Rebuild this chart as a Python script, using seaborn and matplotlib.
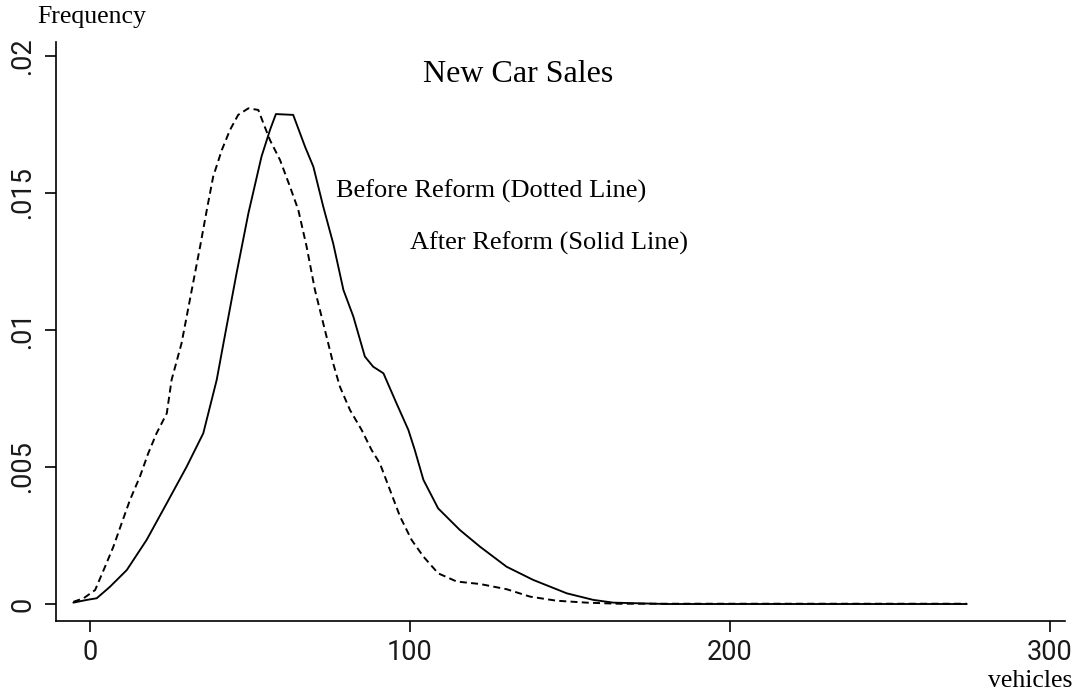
import numpy as np
import pandas as pd
import matplotlib
matplotlib.use("Agg")
import matplotlib.pyplot as plt
import seaborn as sns

# ---- data ----
before_x = [-5.2, -2, 1.6, 4.7, 7.3, 9.9, 12.5, 15.6, 18.2, 20.8, 24, 25.5, 28.6, 31.8,
            34.4, 36.5, 38.5, 41.2, 43.75, 46.3, 49.5, 52.6, 54.2, 56.25, 59.4, 62.5,
            65.1, 67.7, 70.3, 72.9, 76, 78.1, 81.25, 84.9, 88, 90.6, 93.75, 96.9, 100.5,
            104.2, 108.8, 114.6, 121.9, 130.2, 137.5, 145.8, 155.2, 165, 200, 274]
before_y = [0.00008, 0.00021, 0.00051, 0.00136, 0.00209, 0.00295, 0.0038, 0.00465,
            0.0055, 0.00623, 0.00696, 0.00818, 0.00951, 0.01146, 0.01304, 0.01438,
            0.0156, 0.01657, 0.0173, 0.01785, 0.01809, 0.01803, 0.01754, 0.01693,
            0.0162, 0.01523, 0.01438, 0.01304, 0.01146, 0.01024, 0.00878, 0.00793,
            0.00708, 0.00635, 0.00562, 0.00513, 0.00416, 0.00319, 0.00234, 0.00173,
            0.00112, 0.00082, 0.00073, 0.00054, 0.00027, 0.00012, 0.00005, 0.00001,
            0.00001, 0.00001]

after_x = [-5.2, -1, 2.1, 6.25, 11.5, 17.7, 24, 30.2, 35.4, 39.6, 41.7, 45.8, 49.5, 53.6,
           56.25, 58.1, 63.5, 67.2, 69.8, 72.9, 76, 79.2, 82.3, 85.9, 88.5, 91.7, 95.8,
           99.5, 101.5, 104.2, 108.8, 115.6, 121.9, 130.2, 138.5, 149, 157.3, 163.5,
           180, 274]
after_y = [0.00005, 0.00015, 0.00021, 0.00063, 0.00124, 0.00234, 0.00368, 0.00501,
           0.00623, 0.00818, 0.00951, 0.01207, 0.01426, 0.01633, 0.0173, 0.01788,
           0.01785, 0.01669, 0.01596, 0.0145, 0.01316, 0.01146, 0.01049, 0.00903,
           0.00866, 0.00842, 0.00732, 0.00635, 0.00562, 0.00453, 0.00349, 0.0027,
           0.00209, 0.00136, 0.00088, 0.00039, 0.00015, 0.00005, 0.0, 0.0]

x_ticks = [0, 100, 200, 300]
x_tick_labels = ["0", "100", "200", "300"]
y_ticks = [0, 0.005, 0.01, 0.015, 0.02]
y_tick_labels = ["0", ".005", ".01", ".015", ".02"]

title = "New Car Sales"
label_before = "Before Reform (Dotted Line)"
label_after = "After Reform (Solid Line)"
y_label = "Frequency"
x_label = "vehicles"

# ---- plot ----
sns.set_style("ticks")
plt.rcParams["font.family"] = ["Roboto", "DejaVu Sans"]
plt.rcParams["text.color"] = "black"

fig = plt.figure(figsize=(10.74, 6.95), dpi=100)
ax = fig.add_axes([56 / 1074, 1 - 621 / 695, (1065 - 56) / 1074, (621 - 42) / 695])

df_before = pd.DataFrame({"vehicles": before_x, "density": before_y})
df_after = pd.DataFrame({"vehicles": after_x, "density": after_y})

sns.lineplot(data=df_after, x="vehicles", y="density", ax=ax, color="black",
             linewidth=1.35, sort=False)
sns.lineplot(data=df_before, x="vehicles", y="density", ax=ax, color="black",
             linewidth=1.4, linestyle=(0, (3.6, 2.2)), sort=False)

ax.set_xlim(-10.625, 304.7)
ax.set_ylim(-0.00062, 0.02051)
ax.set_xlabel("")
ax.set_ylabel("")

ax.set_xticks(x_ticks)
ax.set_xticklabels(x_tick_labels)
ax.set_yticks(y_ticks)
ax.set_yticklabels(y_tick_labels, rotation=90, va="center")

ax.tick_params(axis="both", direction="out", length=8, width=1.2, color="black",
               labelsize=19.5, labelcolor="#1a1a1a")
ax.tick_params(axis="x", pad=5)
ax.tick_params(axis="y", pad=6)

for s in ["top", "right"]:
    ax.spines[s].set_visible(False)
for s in ["left", "bottom"]:
    ax.spines[s].set_color("black")
    ax.spines[s].set_linewidth(1.2)

serif = ["Liberation Serif", "DejaVu Serif"]
ax.text(104, 0.01905, title, family=serif, fontsize=23, ha="left", va="baseline",
        color="black")
ax.text(76.9, 0.01485, label_before, family=serif, fontsize=19, ha="left",
        va="baseline", color="black")
ax.text(100, 0.01292, label_after, family=serif, fontsize=19, ha="left",
        va="baseline", color="black")

fig.text(37 / 1074, 1 - 23 / 695, y_label, family=serif, fontsize=18.5,
         ha="left", va="baseline", color="black")
fig.text(1072 / 1074, 1 - 687 / 695, x_label, family=serif, fontsize=18.5,
         ha="right", va="baseline", color="black")

fig.savefig("out.png", dpi=100, facecolor="white")
